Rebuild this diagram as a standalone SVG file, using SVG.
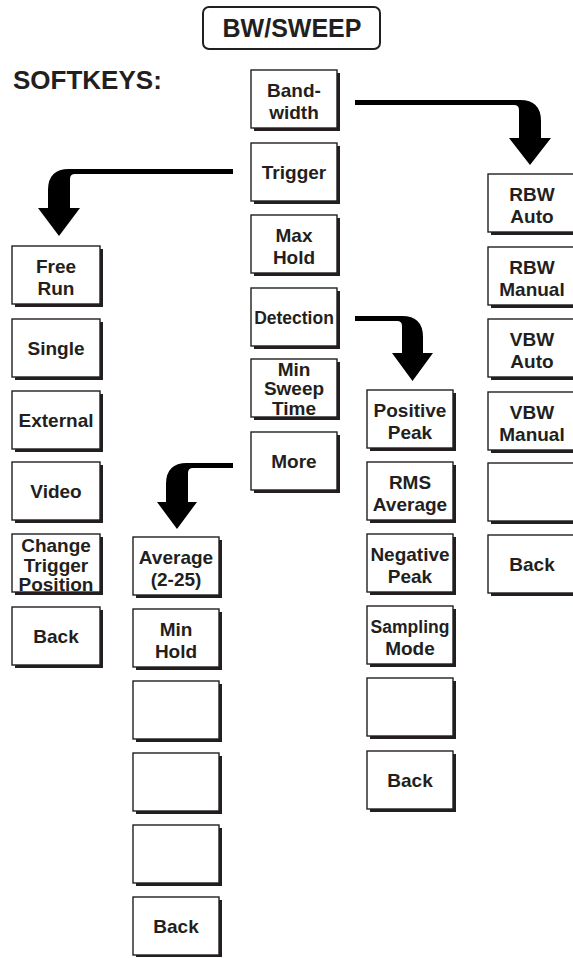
<svg xmlns="http://www.w3.org/2000/svg" width="573" height="958" viewBox="0 0 573 958">
<style>
.sh{fill:#231f20}
.bx{fill:#fff;stroke:#231f20;stroke-width:1.4}
.t{font-family:"Liberation Sans",Arial,sans-serif;font-weight:bold;font-size:19px;fill:#231f20;text-anchor:middle}
.arr{fill:#000}
</style>
<rect width="573" height="958" fill="#fff"/>
<g id="title">
<rect x="203" y="7" width="177" height="42" rx="6" fill="#fff" stroke="#231f20" stroke-width="2"/>
<text class="t" x="292" y="37" style="font-size:25px">BW/SWEEP</text>
</g>
<g id="softkeys-label">
<text x="13" y="89" style="font-family:'Liberation Sans',Arial,sans-serif;font-weight:bold;font-size:26px;fill:#231f20">SOFTKEYS:</text>
</g>
<g id="connectors">
<path class="arr" d="M355,100 H520 Q541,100 541,121 V138 H551 L530,165 L509,138 H519 V110 Q519,105 514,105 H355 Z"/>
<path class="arr" d="M233,169 H69 Q48,169 48,190 V208 H38 L59,236 L80,208 H70 V179 Q70,174 75,174 H233 Z"/>
<path class="arr" d="M355,316 H402 Q423,316 423,337 V353 H433 L412.5,381 L392,353 H402 V326 Q402,321 397,321 H355 Z"/>
<path class="arr" d="M233,463 H187 Q166,463 166,484 V502 H157 L177,529 L197,502 H188 V473 Q188,468 193,468 H233 Z"/>
</g>
<!-- main column -->
<g id="bandwidth"><rect class="sh" x="254" y="73" width="86" height="58"/><rect class="bx" x="251" y="70" width="86" height="58"/><text class="t" x="294" y="97">Band-</text><text class="t" x="294" y="119">width</text></g>
<g id="trigger"><rect class="sh" x="254" y="146" width="86" height="58"/><rect class="bx" x="251" y="143" width="86" height="58"/><text class="t" x="294" y="179">Trigger</text></g>
<g id="maxhold"><rect class="sh" x="254" y="218" width="86" height="58"/><rect class="bx" x="251" y="215" width="86" height="58"/><text class="t" x="294" y="242">Max</text><text class="t" x="294" y="264">Hold</text></g>
<g id="detection"><rect class="sh" x="254" y="291" width="86" height="58"/><rect class="bx" x="251" y="288" width="86" height="58"/><text class="t" x="294" y="324" style="font-size:17.5px">Detection</text></g>
<g id="minsweep"><rect class="sh" x="254" y="362" width="86" height="58"/><rect class="bx" x="251" y="359" width="86" height="58"/><text class="t" x="294" y="376">Min</text><text class="t" x="294" y="395">Sweep</text><text class="t" x="294" y="415">Time</text></g>
<g id="more"><rect class="sh" x="254" y="435" width="86" height="58"/><rect class="bx" x="251" y="432" width="86" height="58"/><text class="t" x="294" y="468">More</text></g>
<!-- trigger column -->
<g id="freerun"><rect class="sh" x="15" y="249" width="88" height="58"/><rect class="bx" x="12" y="246" width="88" height="58"/><text class="t" x="56" y="273">Free</text><text class="t" x="56" y="295">Run</text></g>
<g id="single"><rect class="sh" x="15" y="322" width="88" height="58"/><rect class="bx" x="12" y="319" width="88" height="58"/><text class="t" x="56" y="355">Single</text></g>
<g id="external"><rect class="sh" x="15" y="394" width="88" height="58"/><rect class="bx" x="12" y="391" width="88" height="58"/><text class="t" x="56" y="427">External</text></g>
<g id="video"><rect class="sh" x="15" y="465" width="88" height="58"/><rect class="bx" x="12" y="462" width="88" height="58"/><text class="t" x="56" y="498">Video</text></g>
<g id="changetrigger"><rect class="sh" x="15" y="537" width="88" height="58"/><rect class="bx" x="12" y="534" width="88" height="58"/><text class="t" x="56" y="552">Change</text><text class="t" x="56" y="572">Trigger</text><text class="t" x="56" y="591">Position</text></g>
<g id="trigback"><rect class="sh" x="15" y="610" width="88" height="58"/><rect class="bx" x="12" y="607" width="88" height="58"/><text class="t" x="56" y="643">Back</text></g>
<!-- more column -->
<g id="average"><rect class="sh" x="136" y="540" width="86" height="58"/><rect class="bx" x="133" y="537" width="86" height="58"/><text class="t" x="176" y="564">Average</text><text class="t" x="176" y="586">(2-25)</text></g>
<g id="minhold"><rect class="sh" x="136" y="612" width="86" height="58"/><rect class="bx" x="133" y="609" width="86" height="58"/><text class="t" x="176" y="636">Min</text><text class="t" x="176" y="658">Hold</text></g>
<g id="moreblank1"><rect class="sh" x="136" y="684" width="86" height="58"/><rect class="bx" x="133" y="681" width="86" height="58"/></g>
<g id="moreblank2"><rect class="sh" x="136" y="756" width="86" height="58"/><rect class="bx" x="133" y="753" width="86" height="58"/></g>
<g id="moreblank3"><rect class="sh" x="136" y="828" width="86" height="58"/><rect class="bx" x="133" y="825" width="86" height="58"/></g>
<g id="moreback"><rect class="sh" x="136" y="900" width="86" height="57"/><rect class="bx" x="133" y="897" width="86" height="58"/><text class="t" x="176" y="933">Back</text></g>
<!-- detection column -->
<g id="positivepeak"><rect class="sh" x="370" y="393" width="86" height="58"/><rect class="bx" x="367" y="390" width="86" height="58"/><text class="t" x="410" y="417">Positive</text><text class="t" x="410" y="439">Peak</text></g>
<g id="rmsaverage"><rect class="sh" x="370" y="465" width="86" height="58"/><rect class="bx" x="367" y="462" width="86" height="58"/><text class="t" x="410" y="489">RMS</text><text class="t" x="410" y="511">Average</text></g>
<g id="negativepeak"><rect class="sh" x="370" y="537" width="86" height="58"/><rect class="bx" x="367" y="534" width="86" height="58"/><text class="t" x="410" y="561">Negative</text><text class="t" x="410" y="583">Peak</text></g>
<g id="samplingmode"><rect class="sh" x="370" y="609" width="86" height="58"/><rect class="bx" x="367" y="606" width="86" height="58"/><text class="t" x="410" y="633" style="font-size:17.5px">Sampling</text><text class="t" x="410" y="655">Mode</text></g>
<g id="detblank"><rect class="sh" x="370" y="681" width="86" height="58"/><rect class="bx" x="367" y="678" width="86" height="58"/></g>
<g id="detback"><rect class="sh" x="370" y="754" width="86" height="58"/><rect class="bx" x="367" y="751" width="86" height="58"/><text class="t" x="410" y="787">Back</text></g>
<!-- bandwidth column -->
<g id="rbwauto"><rect class="sh" x="491" y="177" width="88" height="58"/><rect class="bx" x="488" y="174" width="88" height="58"/><text class="t" x="532" y="201">RBW</text><text class="t" x="532" y="223">Auto</text></g>
<g id="rbwmanual"><rect class="sh" x="491" y="250" width="88" height="58"/><rect class="bx" x="488" y="247" width="88" height="58"/><text class="t" x="532" y="274">RBW</text><text class="t" x="532" y="296">Manual</text></g>
<g id="vbwauto"><rect class="sh" x="491" y="322" width="88" height="58"/><rect class="bx" x="488" y="319" width="88" height="58"/><text class="t" x="532" y="346">VBW</text><text class="t" x="532" y="368">Auto</text></g>
<g id="vbwmanual"><rect class="sh" x="491" y="395" width="88" height="58"/><rect class="bx" x="488" y="392" width="88" height="58"/><text class="t" x="532" y="419">VBW</text><text class="t" x="532" y="441">Manual</text></g>
<g id="bwblank"><rect class="sh" x="491" y="466" width="88" height="58"/><rect class="bx" x="488" y="463" width="88" height="58"/></g>
<g id="bwback"><rect class="sh" x="491" y="538" width="88" height="58"/><rect class="bx" x="488" y="535" width="88" height="58"/><text class="t" x="532" y="571">Back</text></g>
</svg>
